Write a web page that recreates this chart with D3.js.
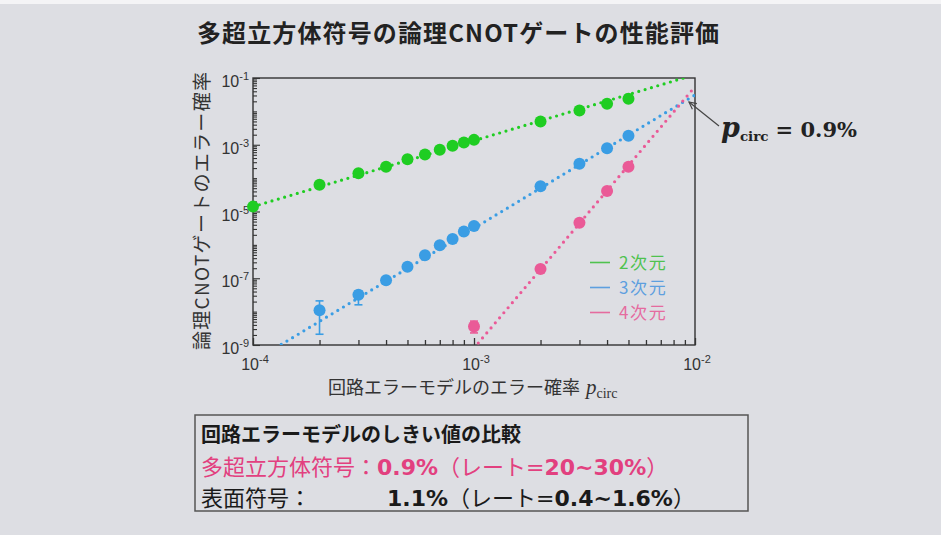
<!DOCTYPE html>
<html><head><meta charset="utf-8">
<script src="https://cdn.jsdelivr.net/npm/d3@7"></script>
<style>
html,body{margin:0;padding:0;background:#dcdde2;}
svg{display:block;}
</style></head>
<body>
<svg id="chart" width="941" height="535"></svg>
<script>
// ---------- data ----------
const title = "多超立方体符号の論理CNOTゲートの性能評価";
const yLabel = "論理CNOTゲートのエラー確率";
const xLabel = "回路エラーモデルのエラー確率";
const xTicks = [1e-4, 1e-3, 1e-2];
const xTickExp = ["-4", "-3", "-2"];
const yTicks = [1e-1, 1e-3, 1e-5, 1e-7, 1e-9];
const yTickExp = ["-1", "-3", "-5", "-7", "-9"];

const series = ["2次元", "3次元", "4次元"];
const seriesColors = ["#1fcd22", "#3a9de4", "#ea5a97"];
const legendColors = ["#4fc24f", "#5d9fdf", "#e56b9f"];

const x2D = [1e-4, 2e-4, 3e-4, 4e-4, 5e-4, 6e-4, 7e-4, 8e-4, 9e-4, 1e-3, 2e-3, 3e-3, 4e-3, 5e-3];
const y2D = [1.4e-5, 6.3e-5, 1.4e-4, 2.2e-4, 3.7e-4, 5.1e-4, 7.1e-4, 9.3e-4, 1.17e-3, 1.4e-3, 5.0e-3, 1.06e-2, 1.7e-2, 2.4e-2];

const x3D = [2e-4, 3e-4, 4e-4, 5e-4, 6e-4, 7e-4, 8e-4, 9e-4, 1e-3, 2e-3, 3e-3, 4e-3, 5e-3];
const y3D = [1.1e-8, 3.2e-8, 8.7e-8, 2.2e-7, 4.9e-7, 9.8e-7, 1.5e-6, 2.5e-6, 3.7e-6, 5.7e-5, 2.7e-4, 7.9e-4, 1.86e-3];
const err3DLow  = [2.1e-9, 1.6e-8, null, null, null, null, null, null, null, null, null, null, null];
const err3DHigh = [2.1e-8, 4.2e-8, null, null, null, null, null, null, null, null, null, null, null];

const x4D = [1e-3, 2e-3, 3e-3, 4e-3, 5e-3];
const y4D = [3.6e-9, 1.9e-7, 4.6e-6, 4.1e-5, 2.2e-4];
const err4DLow  = [2.3e-9, null, null, null, null];
const err4DHigh = [5.2e-9, null, null, null, null];

// fitted dotted lines (endpoints)
const fitX = [[1e-4, 1e-2], [1e-4, 1e-2], [1e-3, 1e-2]];
const fitY = [[1.4e-5, 1.26e-1], [3.2e-10, 3.1e-2], [8.1e-10, 5.5e-2]];

const annotation = "0.9%";
const boxTitle = "回路エラーモデルのしきい値の比較";
// [text, bold, latin]
const row1 = [["多超立方体符号", false, false], ["：", false, false], ["0.9%", true, true], ["（レート", false, false], ["=", false, true], ["20~30%", true, true], ["）", false, false]];
const row2a = "表面符号：";
const row2b = [["1.1%", true, true], ["（レート", false, false], ["=", false, true], ["0.4~1.6%", true, true], ["）", false, false]];

// ---------- drawing ----------
const svg = d3.select("#chart");
const W = 941, H = 535;
const CJK = "'Noto Sans CJK JP','Noto Sans',sans-serif";
const SANS = "'Liberation Sans',Arial,sans-serif";
const LATIN = "'DejaVu Sans',sans-serif";
const SERIF = "'Liberation Serif','DejaVu Serif',serif";
const MSERIF = "'DejaVu Serif',serif";

svg.append("rect").attr("width", W).attr("height", H).attr("fill", "#dddee3");
svg.append("rect").attr("width", W).attr("height", 4).attr("fill", "#f4f4f6");

const L = 253, R = 695, T = 78, B = 345;
const x = d3.scaleLog().domain([1e-4, 1e-2]).range([L, R]);
const y = d3.scaleLog().domain([1e-9, 1e-1]).range([B, T]);

// title
svg.append("text").attr("x", 197).attr("y", 42)
  .attr("font-family", CJK).attr("font-weight", "bold").attr("font-size", 24)
  .attr("fill", "#222").attr("textLength", 522).attr("lengthAdjust", "spacing")
  .text(title);

// clip
svg.append("clipPath").attr("id", "clip").append("rect")
  .attr("x", L).attr("y", T).attr("width", R - L).attr("height", B - T);

// frame
svg.append("rect").attr("x", L).attr("y", T).attr("width", R - L).attr("height", B - T)
  .attr("fill", "none").attr("stroke", "#333").attr("stroke-width", 1.4);

// x minor/major ticks (inside)
const xAllTicks = x.ticks();
const xAxis = d3.axisBottom(x).tickValues(xAllTicks).tickSize(0).tickFormat("");
const gx = svg.append("g").attr("transform", `translate(0,${B})`).call(xAxis);
gx.select(".domain").remove();
gx.selectAll(".tick line").attr("y2", d => xTicks.includes(d) ? -7 : -5)
  .attr("stroke", "#333").attr("stroke-width", 1.3);

// y ticks
const yAllTicks = y.ticks();
const yAxis = d3.axisLeft(y).tickValues(yAllTicks).tickSize(0).tickFormat("");
const gy = svg.append("g").attr("transform", `translate(${L},0)`).call(yAxis);
gy.select(".domain").remove();
gy.selectAll(".tick line").attr("x2", d => yTicks.includes(d) ? 7 : 4)
  .attr("stroke", "#333").attr("stroke-width", 1.1);

// tick labels
xTicks.forEach((v, i) => {
  const t = svg.append("text").attr("x", x(v) + 2).attr("y", B + 25)
    .attr("font-family", SANS).attr("font-size", 16).attr("fill", "#333")
    .attr("text-anchor", "middle");
  t.append("tspan").text("10");
  t.append("tspan").attr("dy", -7).attr("font-size", 11).text(xTickExp[i]);
});
yTicks.forEach((v, i) => {
  const t = svg.append("text").attr("x", L - 4).attr("y", y(v) + 9)
    .attr("font-family", SANS).attr("font-size", 16).attr("fill", "#333")
    .attr("text-anchor", "end");
  t.append("tspan").text("10");
  t.append("tspan").attr("dy", -7).attr("font-size", 11).text(yTickExp[i]);
});

// axis labels
svg.append("text").attr("transform", `translate(209,211) rotate(-90)`)
  .attr("text-anchor", "middle").attr("font-family", CJK).attr("font-size", 19)
  .attr("fill", "#333").attr("textLength", 278).attr("lengthAdjust", "spacing")
  .text(yLabel);
const xl = svg.append("text").attr("x", 328).attr("y", 394)
  .attr("font-family", CJK).attr("font-size", 18).attr("fill", "#333");
xl.append("tspan").text(xLabel);
xl.append("tspan").attr("dx", 6).attr("font-family", SERIF).attr("font-style", "italic").attr("font-size", 21).text("p");
xl.append("tspan").attr("dy", 4).attr("font-family", SERIF).attr("font-size", 14).text("circ");

// fit lines
const plot = svg.append("g").attr("clip-path", "url(#clip)");
const line = d3.line().x(d => x(d[0])).y(d => y(d[1]));
fitX.forEach((xs, i) => {
  plot.append("path").datum(xs.map((v, j) => [v, fitY[i][j]]))
    .attr("d", line).attr("fill", "none").attr("stroke", seriesColors[i])
    .attr("stroke-width", 3.2).attr("stroke-linecap", "round")
    .attr("stroke-dasharray", "0,6.6");
});

// error bars
function errBars(xs, lo, hi, color) {
  xs.forEach((v, i) => {
    if (lo[i] == null) return;
    const g = svg.append("g").attr("stroke", color).attr("stroke-width", 1.6);
    g.append("line").attr("x1", x(v)).attr("x2", x(v)).attr("y1", y(lo[i])).attr("y2", y(hi[i]));
    g.append("line").attr("x1", x(v) - 4).attr("x2", x(v) + 4).attr("y1", y(lo[i])).attr("y2", y(lo[i]));
    g.append("line").attr("x1", x(v) - 4).attr("x2", x(v) + 4).attr("y1", y(hi[i])).attr("y2", y(hi[i]));
  });
}
errBars(x3D, err3DLow, err3DHigh, seriesColors[1]);
errBars(x4D, err4DLow, err4DHigh, seriesColors[2]);

// points
[[x2D, y2D], [x3D, y3D], [x4D, y4D]].forEach(([xs, ys], i) => {
  svg.append("g").selectAll("circle").data(xs.map((v, j) => [v, ys[j]])).join("circle")
    .attr("cx", d => x(d[0])).attr("cy", d => y(d[1])).attr("r", 6)
    .attr("fill", seriesColors[i]);
});

// legend
const legY0 = 262.5, legStep = 25;
series.forEach((s, i) => {
  const yy = legY0 + i * legStep;
  svg.append("line").attr("x1", 590).attr("x2", 610).attr("y1", yy).attr("y2", yy)
    .attr("stroke", legendColors[i]).attr("stroke-width", 1.6);
  svg.append("text").attr("x", 619).attr("y", yy + 6.5)
    .attr("font-family", CJK).attr("font-size", 17).attr("letter-spacing", 1.6)
    .attr("fill", legendColors[i]).text(s);
});

// annotation
svg.append("defs").append("marker").attr("id", "arr").attr("viewBox", "0 0 10 10")
  .attr("refX", 9).attr("refY", 5).attr("markerWidth", 9).attr("markerHeight", 9)
  .attr("orient", "auto").attr("markerUnits", "userSpaceOnUse")
  .append("path").attr("d", "M1,1 L9,5 L1,9").attr("fill", "none").attr("stroke", "#444").attr("stroke-width", 1.3);
svg.append("line").attr("x1", 719).attr("y1", 126).attr("x2", 689).attr("y2", 102)
  .attr("stroke", "#444").attr("stroke-width", 1.2).attr("marker-end", "url(#arr)");
const an = svg.append("text").attr("x", 721).attr("y", 137)
  .attr("font-family", MSERIF).attr("font-weight", "bold").attr("font-size", 21).attr("fill", "#222");
an.append("tspan").attr("font-style", "italic").attr("font-size", 27).text("p");
an.append("tspan").attr("dy", 4).attr("font-size", 13.5).text("circ");
an.append("tspan").attr("dy", -4).attr("dx", 7).text("= " + annotation);

// comparison box
svg.append("rect").attr("x", 195).attr("y", 415).attr("width", 553).attr("height", 96)
  .attr("fill", "none").attr("stroke", "#555").attr("stroke-width", 1.5);
svg.append("text").attr("x", 201).attr("y", 442)
  .attr("font-family", CJK).attr("font-weight", "bold").attr("font-size", 20).attr("fill", "#1a1a1a")
  .text(boxTitle);
function addRow(sel, parts) {
  parts.forEach(([t, b, lat]) => sel.append("tspan")
    .attr("font-family", lat ? LATIN : CJK)
    .attr("font-size", 22)
    .attr("font-weight", b ? "bold" : "normal").text(t));
}
const r1 = svg.append("text").attr("x", 201).attr("y", 475)
  .attr("font-family", CJK).attr("font-size", 22).attr("fill", "#e2407f");
addRow(r1, row1);
svg.append("text").attr("x", 201).attr("y", 506)
  .attr("font-family", CJK).attr("font-size", 22).attr("fill", "#1a1a1a").text(row2a);
const r2 = svg.append("text").attr("x", 387).attr("y", 506)
  .attr("font-family", CJK).attr("font-size", 22).attr("fill", "#1a1a1a");
addRow(r2, row2b);
</script>
</body></html>
